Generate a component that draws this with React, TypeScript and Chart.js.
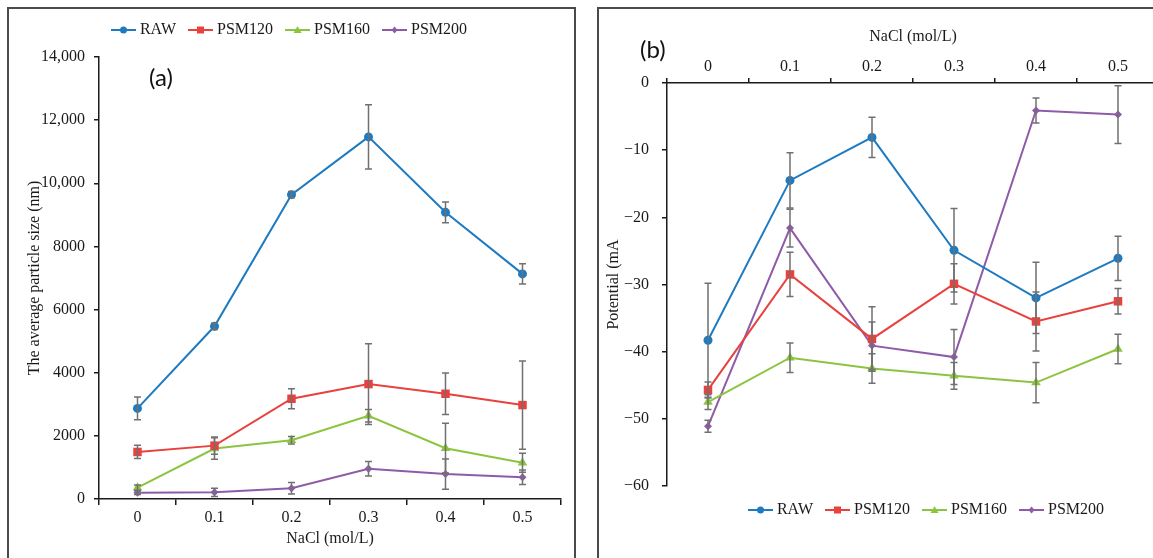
import React, { useEffect, useRef } from 'react';
import { Chart, registerables } from 'chart.js';

Chart.register(...registerables);

// ---------- data ----------
const categories = ['0', '0.1', '0.2', '0.3', '0.4', '0.5'];
const seriesNames = ['RAW', 'PSM120', 'PSM160', 'PSM200'];

// (a) average particle size (nm)
const sizeRAW = [2870, 5470, 9640, 11470, 9080, 7130];
const sizePSM120 = [1490, 1690, 3175, 3640, 3333, 2975];
const sizePSM160 = [360, 1600, 1860, 2635, 1610, 1150];
const sizePSM200 = [200, 210, 340, 960, 790, 690];
const sizeErrRAW = [360, 100, 100, 1020, 330, 320];
const sizeErrPSM120 = [210, 270, 320, 1280, 660, 1400];
const sizeErrPSM160 = [80, 340, 120, 200, 790, 300];
const sizeErrPSM200 = [60, 130, 180, 230, 480, 230];

// (b) potential
const potRAW = [-38.3, -14.5, -8.1, -24.9, -32.0, -26.1];
const potPSM120 = [-45.7, -28.5, -38.1, -29.9, -35.5, -32.5];
const potPSM160 = [-47.5, -40.9, -42.5, -43.6, -44.6, -39.6];
const potPSM200 = [-51.1, -21.6, -39.1, -40.8, -4.1, -4.7];
const potErrRAW = [8.5, 4.1, 3.0, 6.2, 5.3, 3.3];
const potErrPSM120 = [1.2, 3.3, 4.8, 3.0, 4.4, 1.9];
const potErrPSM160 = [1.1, 2.2, 2.2, 2.0, 3.0, 2.2];
const potErrPSM200 = [0.9, 2.8, 3.5, 4.1, 1.85, 4.3];

// tick labels
const yTicksA = [0, 2000, 4000, 6000, 8000, 10000, 12000, 14000];
const yTickLabelsA = ['0', '2000', '4000', '6000', '8000', '10,000', '12,000', '14,000'];
const yTicksB = [-60, -50, -40, -30, -20, -10, 0];
const yTickLabelsB = ['\u221260', '\u221250', '\u221240', '\u221230', '\u221220', '\u221210', '0'];

// ---------- styles ----------
const colors = ['#1f7bc1', '#e8413e', '#8cc43f', '#8e5ba8'];
const markers = ['circle', 'rect', 'triangle', 'rectRot'];
const radii = [4.5, 6, 5.5, 4];
const SERIF = "'Liberation Serif', 'DejaVu Serif', serif";
const TXT = '#1a1a1a';
const AXIS = '#1a1a1a';
const font16 = { family: SERIF, size: 16 };

function makeIcon(color: string, style: string): HTMLCanvasElement {
  const c = document.createElement('canvas');
  c.width = 25;
  c.height = 12;
  const g = c.getContext('2d')!;
  g.strokeStyle = color;
  g.lineWidth = 2;
  g.beginPath();
  g.moveTo(0, 6);
  g.lineTo(25, 6);
  g.stroke();
  g.fillStyle = color;
  const cx = 12.5, cy = 6;
  g.beginPath();
  if (style === 'circle') g.arc(cx, cy, 3.5, 0, Math.PI * 2);
  else if (style === 'rect') g.rect(cx - 3.5, cy - 3.5, 7, 7);
  else if (style === 'triangle') {
    g.moveTo(cx, cy - 4);
    g.lineTo(cx + 4, cy + 3);
    g.lineTo(cx - 4, cy + 3);
    g.closePath();
  } else {
    g.moveTo(cx, cy - 3.5);
    g.lineTo(cx + 3, cy);
    g.lineTo(cx, cy + 3.5);
    g.lineTo(cx - 3, cy);
    g.closePath();
  }
  g.fill();
  return c;
}

function makeErrorPlugin(errors: number[][]) {
  return {
    id: 'errorBars',
    afterDatasetsDraw(chart: any) {
      const { ctx } = chart;
      const xs = chart.scales.x;
      const ys = chart.scales.y;
      const cap = 3.5;
      ctx.save();
      ctx.strokeStyle = '#707070';
      ctx.lineWidth = 1.5;
      chart.data.datasets.forEach((ds: any, i: number) => {
        const e = errors[i];
        (ds.data as number[]).forEach((v, j) => {
          const px = xs.getPixelForValue(j);
          const yt = ys.getPixelForValue(v + e[j]);
          const yb = ys.getPixelForValue(v - e[j]);
          ctx.beginPath();
          ctx.moveTo(px, yt);
          ctx.lineTo(px, yb);
          ctx.moveTo(px - cap, yt);
          ctx.lineTo(px + cap, yt);
          ctx.moveTo(px - cap, yb);
          ctx.lineTo(px + cap, yb);
          ctx.stroke();
        });
      });
      ctx.restore();
    },
  };
}

function buildDatasets(series: number[][]) {
  return series.map((d, i) => ({
    label: seriesNames[i],
    data: d,
    borderColor: colors[i],
    backgroundColor: colors[i],
    borderWidth: 2,
    pointStyle: markers[i],
    pointRadius: radii[i],
    pointBorderWidth: 0,
    pointBackgroundColor: colors[i],
    tension: 0,
  }));
}

function legendOpts(position: 'top' | 'bottom', icons: HTMLCanvasElement[]) {
  return {
    position,
    labels: {
      usePointStyle: true,
      pointStyleWidth: 17,
      padding: 16,
      font: font16,
      color: TXT,
      generateLabels: (chart: any) => {
        const items = (Chart.defaults.plugins.legend.labels as any).generateLabels(chart);
        items.forEach((it: any, i: number) => {
          it.pointStyle = icons[i];
        });
        return items;
      },
    },
  };
}

function ChartA() {
  const ref = useRef<HTMLCanvasElement>(null);
  useEffect(() => {
    const icons = colors.map((c, i) => makeIcon(c, markers[i]));
    const chart = new Chart(ref.current!, {
      type: 'line',
      data: {
        labels: categories,
        datasets: buildDatasets([sizeRAW, sizePSM120, sizePSM160, sizePSM200]) as any,
      },
      options: {
        responsive: false,
        animation: false,
        layout: { padding: { top: 4, left: 11, right: 12, bottom: 6 } },
        plugins: {
          legend: legendOpts('top', icons) as any,
          // spacer between legend and plot (no text)
          title: { display: true, text: '', weight: 500, font: { size: 5, lineHeight: 1 }, padding: { top: 0, bottom: 4 } },
          tooltip: { enabled: false },
        },
        scales: {
          x: {
            type: 'category',
            offset: true,
            grid: { display: true, drawOnChartArea: false, drawTicks: true, tickLength: 6, offset: true, color: AXIS, lineWidth: 1.5 },
            border: { display: true, color: AXIS, width: 1.5 },
            ticks: { font: font16, color: TXT, padding: 3 },
            title: { display: true, text: 'NaCl (mol/L)', font: font16, color: TXT, padding: { top: 4, bottom: 4 } },
            afterFit: (s: any) => { s.height = 53; },
          },
          y: {
            type: 'linear',
            min: 0,
            max: 14000,
            afterBuildTicks: (s: any) => { s.ticks = yTicksA.map((v) => ({ value: v })); },
            ticks: { font: font16, color: TXT, padding: 9, callback: (_v: any, i: number) => yTickLabelsA[i] },
            grid: { display: true, drawOnChartArea: false, drawTicks: true, tickLength: 5, color: AXIS, lineWidth: 1.5 },
            border: { display: true, color: AXIS, width: 1.5 },
            title: { display: true, text: 'The average particle size (nm)', font: font16, color: TXT, padding: { top: 4, bottom: 4 } },
            afterFit: (s: any) => { s.width = 78; },
          },
        },
      } as any,
      plugins: [makeErrorPlugin([sizeErrRAW, sizeErrPSM120, sizeErrPSM160, sizeErrPSM200])],
    });
    return () => chart.destroy();
  }, []);
  return <canvas ref={ref} width={563} height={556} style={{ position: 'absolute', left: 10, top: 2, display: 'block' }} />;
}

function ChartB() {
  const ref = useRef<HTMLCanvasElement>(null);
  useEffect(() => {
    const icons = colors.map((c, i) => makeIcon(c, markers[i]));
    const chart = new Chart(ref.current!, {
      type: 'line',
      data: {
        labels: categories,
        datasets: buildDatasets([potRAW, potPSM120, potPSM160, potPSM200]) as any,
      },
      options: {
        responsive: false,
        animation: false,
        layout: { padding: { top: 13, left: 0, right: 0, bottom: 30 } },
        plugins: {
          legend: legendOpts('bottom', icons) as any,
          tooltip: { enabled: false },
        },
        scales: {
          x: {
            type: 'category',
            position: 'top',
            offset: true,
            grid: { display: true, drawOnChartArea: false, drawTicks: true, tickLength: 5, offset: true, color: AXIS, lineWidth: 1.5 },
            border: { display: true, color: AXIS, width: 1.5 },
            ticks: { font: font16, color: TXT, padding: 2 },
            title: { display: true, text: 'NaCl (mol/L)', font: font16, color: TXT, padding: { top: 4, bottom: 4 } },
            afterFit: (s: any) => { s.height = 60; },
          },
          y: {
            type: 'linear',
            min: -60,
            max: 0,
            afterBuildTicks: (s: any) => { s.ticks = yTicksB.map((v) => ({ value: v })); },
            ticks: { font: font16, color: TXT, padding: 13, callback: (_v: any, i: number) => yTickLabelsB[i] },
            grid: { display: true, drawOnChartArea: false, drawTicks: true, tickLength: 5, color: AXIS, lineWidth: 1.5 },
            border: { display: true, color: AXIS, width: 1.5 },
            title: { display: true, text: 'Potential (mA', font: font16, color: TXT, padding: { top: 4, bottom: 4 } },
            afterFit: (s: any) => { s.width = 67; },
          },
          yR: {
            type: 'linear',
            position: 'right',
            display: true,
            grid: { display: false },
            border: { display: false },
            ticks: { display: false },
            afterFit: (s: any) => { s.width = 97; },
          },
        },
      } as any,
      plugins: [makeErrorPlugin([potErrRAW, potErrPSM120, potErrPSM160, potErrPSM200])],
    });
    return () => chart.destroy();
  }, []);
  return <canvas ref={ref} width={656} height={548} style={{ position: 'absolute', left: 600, top: 10, display: 'block' }} />;
}

const panelStyle: React.CSSProperties = {
  position: 'absolute',
  border: '2px solid #4a4a4a',
  boxSizing: 'border-box',
  background: 'transparent',
};

const tagStyle: React.CSSProperties = {
  position: 'absolute',
  fontFamily: "Lato, 'Open Sans', sans-serif",
  fontSize: 24,
  lineHeight: '28px',
  color: '#111',
  whiteSpace: 'nowrap',
};

export default function App() {
  return (
    <div style={{ position: 'fixed', left: 0, top: 0, width: 1153, height: 558, overflow: 'hidden', background: '#fff' }}>
      <div style={{ ...panelStyle, left: 7, top: 7, width: 569, height: 620 }} />
      <div style={{ ...panelStyle, left: 597, top: 7, width: 700, height: 620 }} />
      <ChartA />
      <ChartB />
      <div style={{ ...tagStyle, left: 149, top: 63 }}>(a)</div>
      <div style={{ ...tagStyle, left: 640, top: 35 }}>(b)</div>
    </div>
  );
}
